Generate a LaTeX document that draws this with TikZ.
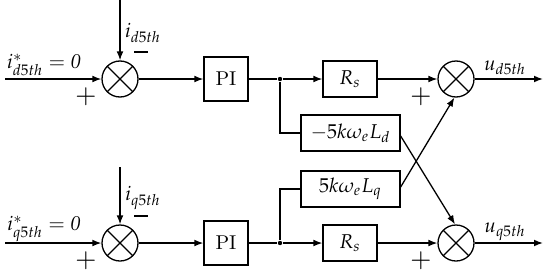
\documentclass[tikz,border=0pt]{standalone}
\usepackage{mathpazo}
\usetikzlibrary{arrows.meta}
\tikzset{
  arr/.style={-{Latex[length=4.5pt,width=3.4pt]}},
  sumnode/.style={circle,draw,line width=0.65pt,minimum size=18pt,inner sep=0pt,
    path picture={\draw[line width=0.65pt] (path picture bounding box.north west)--(path picture bounding box.south east)
      (path picture bounding box.north east)--(path picture bounding box.south west);}},
  blk/.style={draw,line width=0.65pt,inner sep=0pt,font=\fontsize{10}{12}\selectfont},
  lbl/.style={inner sep=0pt,font=\fontsize{10}{12}\selectfont},
  sgn/.style={inner sep=0pt,font=\fontsize{13}{14}\selectfont},
  minus/.style={fill,inner sep=0pt,minimum width=7pt,minimum height=1.3pt},
  dot/.style={circle,fill,inner sep=0pt,minimum size=2.2pt}
}
\begin{document}
\begin{tikzpicture}[x=0.5pt,y=-0.5pt,line width=0.65pt]
\useasboundingbox (0,0) rectangle (550,273);
% top row
\node[sumnode] (s1) at (120,79) {};
\node[blk,minimum width=22pt,minimum height=22pt] (pi1) at (226,79) {PI};
\node[blk,minimum width=27pt,minimum height=18pt] (rs1) at (350,79) {$R_s$};
\node[sumnode] (s2) at (456,79) {};
\node[blk,minimum width=49.5pt,minimum height=18pt] (ld) at (350.5,133) {$-5k\omega_e L_d$};
\node[blk,minimum width=49.5pt,minimum height=18pt] (lq) at (350.5,189) {$5k\omega_e L_q$};
% bottom row
\node[sumnode] (s3) at (120,243) {};
\node[blk,minimum width=22pt,minimum height=22pt] (pi2) at (226,243) {PI};
\node[blk,minimum width=27pt,minimum height=18pt] (rs2) at (350,243) {$R_s$};
\node[sumnode] (s4) at (456,243) {};
% coordinates
\coordinate (in1) at (5,79);
\coordinate (in2) at (5,243);
\coordinate (t1) at (120,0);
\coordinate (t2) at (120,167);
\coordinate (o1) at (543,79);
\coordinate (o2) at (543,243);
\node[dot] (j1) at (280,79) {};
\node[dot] (j2) at (280,243) {};
% wires top
\draw[arr] (in1) -- (s1);
\draw[arr] (t1) -- (s1);
\draw[arr] (s1) -- (pi1);
\draw (pi1) -- (j1);
\draw[arr] (j1) -- (rs1);
\draw (j1) |- (ld);
\draw[arr] (rs1) -- (s2);
\draw[arr] (s2) -- (o1);
% wires bottom
\draw[arr] (in2) -- (s3);
\draw[arr] (t2) -- (s3);
\draw[arr] (s3) -- (pi2);
\draw (pi2) -- (j2);
\draw[arr] (j2) -- (rs2);
\draw (j2) |- (lq);
\draw[arr] (rs2) -- (s4);
\draw[arr] (s4) -- (o2);
% cross
\draw[arr] ([yshift=-1.5]ld.east) -- (s4.93);
\draw[arr] ([yshift=1]lq.east) -- (s2.265);
% labels
\node[lbl] at (44,65) {$i^{*}_{d5th}=\mathit{0}$};
\node[lbl] at (44,229) {$i^{*}_{q5th}=\mathit{0}$};
\node[lbl] at (143,33) {$i_{d5th}$};
\node[lbl] at (143,198) {$i_{q5th}$};
\node[lbl] at (505,68) {$u_{d5th}$};
\node[lbl] at (505,232) {$u_{q5th}$};
\node[sgn] at (86,97) {$+$};
\node[sgn] at (86,261) {$+$};
\node[sgn] at (421,97) {$+$};
\node[sgn] at (421,261) {$+$};
\node[minus] at (141,52) {};
\node[minus] at (141,216) {};
\end{tikzpicture}
\end{document}
